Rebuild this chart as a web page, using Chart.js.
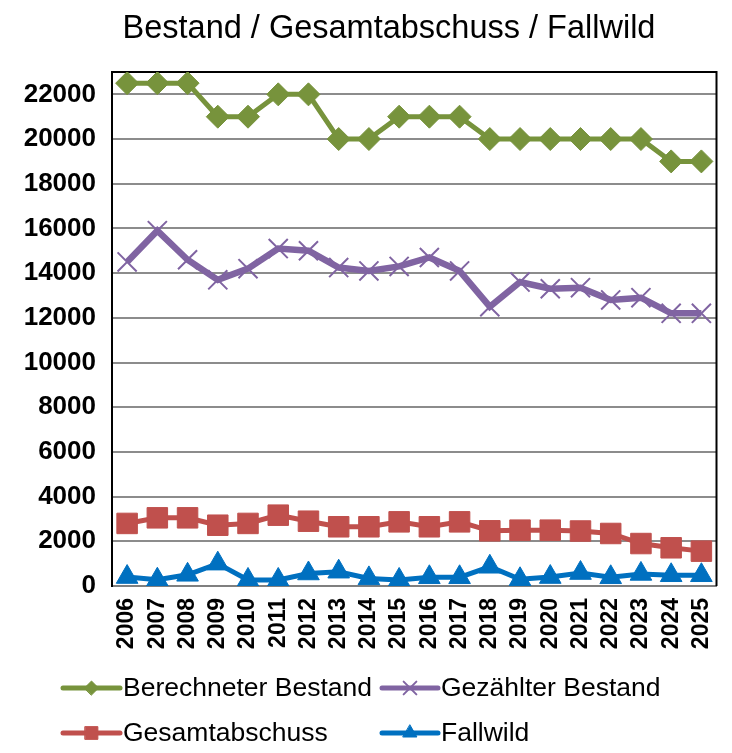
<!DOCTYPE html>
<html>
<head>
<meta charset="utf-8">
<script src="https://cdn.jsdelivr.net/npm/chart.js@4/dist/chart.umd.min.js"></script>
<style>
  html, body { margin: 0; padding: 0; background: #fff; }
  #wrap { width: 732px; height: 753px; position: relative; }
</style>
</head>
<body>
<div id="wrap"><canvas id="c" width="732" height="753"></canvas></div>
<script>
const years = ['2006','2007','2008','2009','2010','2011','2012','2013','2014','2015','2016','2017','2018','2019','2020','2021','2022','2023','2024','2025'];
const berechneterBestand = [22500,22500,22500,21000,21000,22000,22000,20000,20000,21000,21000,21000,20000,20000,20000,20000,20000,20000,19000,19000];
const gezaehlterBestand = [14500,15900,14600,13700,14200,15100,15000,14250,14100,14300,14700,14100,12500,13600,13300,13350,12800,12900,12200,12200];
const gesamtabschuss = [2800,3050,3050,2720,2800,3170,2900,2650,2650,2870,2650,2870,2470,2500,2500,2460,2350,1900,1710,1560];
const fallwild = [400,280,500,1000,270,270,560,640,340,270,390,390,860,300,400,580,390,540,480,480];
const seriesLabels = ['Berechneter Bestand','Gezählter Bestand','Gesamtabschuss','Fallwild'];
const yTickValues = [0,2000,4000,6000,8000,10000,12000,14000,16000,18000,20000,22000];
const yMin = 0, yMax = 23000;
const titleText = 'Bestand / Gesamtabschuss / Fallwild';

const FONT = "'Liberation Sans', Arial, sans-serif";

const frame = {
  id: 'frame',
  beforeDatasetsDraw(chart) {
    const a = chart.chartArea, ctx = chart.ctx;
    ctx.save();
    ctx.strokeStyle = '#000';
    ctx.lineWidth = 2;
    ctx.beginPath();
    ctx.moveTo(a.left, a.top);
    ctx.lineTo(a.right, a.top);
    ctx.lineTo(a.right, a.bottom);
    ctx.stroke();
    ctx.restore();
  }
};

const titleDraw = {
  id: 'titleDraw',
  afterDraw(chart) {
    const ctx = chart.ctx;
    ctx.save();
    ctx.fillStyle = '#000';
    ctx.font = "32.5px " + FONT;
    ctx.textAlign = 'center';
    ctx.textBaseline = 'middle';
    ctx.fillText(titleText, 389, 29);
    ctx.restore();
  }
};

const gridLegend = {
  id: 'gridLegend',
  afterDraw(chart) {
    const ctx = chart.ctx;
    const lx1 = [63, 382], lx2 = [120, 438], tx = [123, 441], ys = [688, 733];
    const legendRadius = [7, 9, 9, 8];
    chart.data.datasets.forEach((ds, i) => {
      const col = i % 2, row = Math.floor(i / 2);
      const y = ys[row];
      ctx.save();
      ctx.strokeStyle = ds.borderColor;
      ctx.lineWidth = 5;
      ctx.lineCap = 'round';
      ctx.beginPath();
      ctx.moveTo(lx1[col], y);
      ctx.lineTo(lx2[col], y);
      ctx.stroke();
      ctx.fillStyle = ds.pointBackgroundColor;
      ctx.strokeStyle = ds.pointBorderColor;
      ctx.lineWidth = ds.pointBorderWidth;
      Chart.helpers.drawPoint(ctx, { pointStyle: ds.pointStyle, radius: legendRadius[i], rotation: 0, borderWidth: ds.pointBorderWidth }, (lx1[col] + lx2[col]) / 2, y);
      ctx.fillStyle = '#000';
      ctx.font = "26.5px " + FONT;
      ctx.textBaseline = 'middle';
      ctx.textAlign = 'left';
      ctx.fillText(ds.label, tx[col], y + 1);
      ctx.restore();
    });
  }
};

const mk = (label, data, color, style, radius, lw, bw, fillPoint) => ({
  label, data,
  borderColor: color,
  backgroundColor: color,
  borderWidth: lw,
  pointStyle: style,
  pointRadius: radius,
  pointHoverRadius: radius,
  pointBackgroundColor: fillPoint ? color : 'rgba(0,0,0,0)',
  pointBorderColor: color,
  pointBorderWidth: bw,
  tension: 0,
  fill: false
});

new Chart(document.getElementById('c'), {
  type: 'line',
  data: {
    labels: years,
    datasets: [
      mk(seriesLabels[0], berechneterBestand, '#77933C', 'rectRot', 11.5, 5, 1, true),
      mk(seriesLabels[1], gezaehlterBestand, '#8064A2', 'crossRot', 13.5, 6.5, 2, false),
      mk(seriesLabels[2], gesamtabschuss, '#C0504D', 'rect', 14.5, 5, 1, true),
      mk(seriesLabels[3], fallwild, '#0070C0', 'triangle', 12.5, 5, 1, true)
    ]
  },
  options: {
    responsive: false,
    animation: false,
    devicePixelRatio: 1,
    layout: { padding: { left: 0, right: 0, top: 72, bottom: 97 } },
    plugins: {
      legend: { display: false },
      tooltip: { enabled: false },
      title: { display: false }
    },
    scales: {
      x: {
        offset: true,
        grid: { display: false, drawTicks: false },
        border: { display: true, color: '#7f7f7f', width: 2 },
        ticks: {
          color: '#000',
          font: { family: FONT, size: 23, weight: 'bold' },
          minRotation: 90, maxRotation: 90,
          padding: 12,
          autoSkip: false
        },
        afterFit(scale) { scale.height = 70; scale.paddingLeft = 0; scale.paddingRight = 0; }
      },
      y: {
        min: yMin,
        max: yMax,
        grid: { color: '#8c8c8c', lineWidth: 2, drawTicks: false },
        border: { display: true, color: '#000', width: 2 },
        afterBuildTicks(scale) { scale.ticks = yTickValues.map(value => ({ value })); },
        ticks: {
          color: '#000',
          font: { family: FONT, size: 26, weight: 'bold' },
          padding: 16,
          callback: (v) => String(v)
        },
        afterFit(scale) { scale.width = 112; }
      }
    }
  },
  plugins: [frame, titleDraw, gridLegend]
});
</script>
</body>
</html>
